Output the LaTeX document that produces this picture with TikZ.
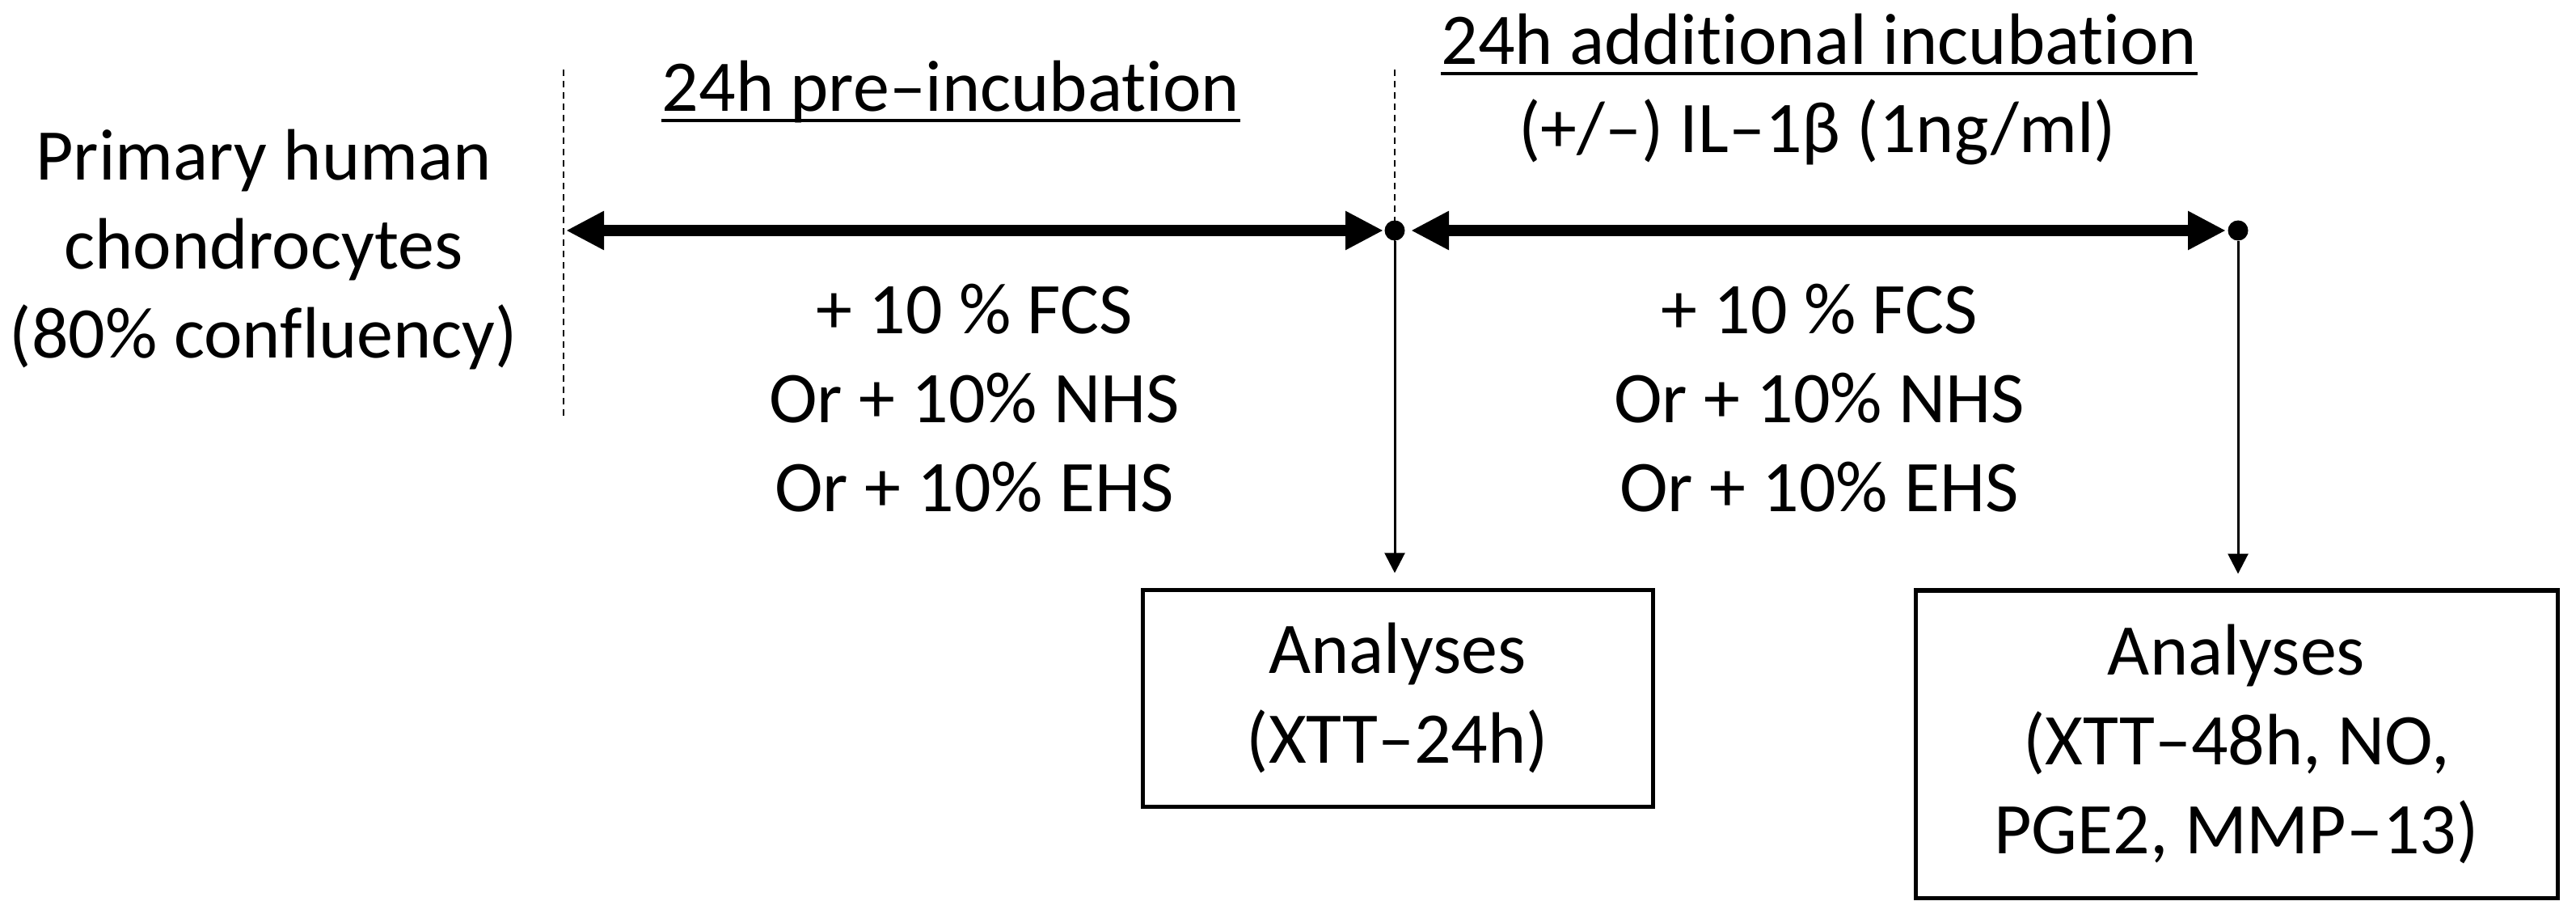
\documentclass[tikz,border=0pt]{standalone}
\usepackage{fontspec}
\setmainfont{Carlito}[Ligatures=NoCommon]
\usetikzlibrary{arrows.meta,calc}
\begin{document}
\begin{tikzpicture}[
  every node/.style={font=\fontsize{25.6pt}{31.3pt}\selectfont},
  txt/.style={align=center, inner sep=0pt, anchor=base},
  timeline/.style={line width=0.14cm, {Triangle[length=0.47cm,width=0.45cm]}-{Triangle[length=0.47cm,width=0.45cm]}},
  guide/.style={line width=0.02cm, dash pattern=on 0.08cm off 0.06cm},
  ulinestyle/.style={line width=0.04cm},
  dotnode/.style={circle, fill=black, inner sep=0pt, minimum size=0.25cm},
  downarrow/.style={line width=0.03cm, -{Triangle[length=0.25cm,width=0.25cm]}, shorten >=0.18cm},
  abox/.style={draw, line width=0.05cm, align=center, inner sep=0pt}
]
\useasboundingbox (0,0) rectangle (31.86,-11.35);

% left label (base anchor = last line baseline)
\node[txt] (cells) at (3.26,-4.43) {Primary human\\chondrocytes\\(80\% confluency)};

% guides
\coordinate (g1t) at (6.97,-0.86);
\coordinate (g1b) at (6.97,-5.15);
\coordinate (g2t) at (17.25,-0.86);
\coordinate (g2b) at (17.25,-4.74);
\draw[guide] (g1t) -- (g1b);
\draw[guide] (g2t) -- (g2b);

% dots
\node[dotnode] (d1) at (17.25,-2.85) {};
\node[dotnode] (d2) at (27.68,-2.85) {};

% timelines
\coordinate (a1s) at (7.00,-2.85);
\coordinate (a2s) at (17.45,-2.85);
\draw[timeline] (a1s) -- ([xshift=-0.14cm]d1.center);
\draw[timeline] (a2s) -- ([xshift=-0.15cm]d2.center);

% titles
\node[txt] (t1) at (11.76,-1.38) {24h pre–incubation};
\draw[ulinestyle] ([yshift=-0.11cm]t1.base west) -- ([yshift=-0.11cm]t1.base east);
\node[txt] (t2) at (22.50,-0.80) {24h additional incubation};
\draw[ulinestyle] ([yshift=-0.11cm]t2.base west) -- ([yshift=-0.11cm]t2.base east);
\node[txt] (il) at (22.48,-1.89) {(+/–) IL–1β (1ng/ml)};

% serum conditions
\node[txt] (s1) at (12.05,-6.33) {+ 10 \% FCS\\Or + 10\% NHS\\Or + 10\% EHS};
\node[txt] (s2) at (22.50,-6.33) {+ 10 \% FCS\\Or + 10\% NHS\\Or + 10\% EHS};

% analyses boxes
\node[abox, minimum width=6.31cm, minimum height=2.68cm] (b1) at (17.285,-8.63) {Analyses\\(XTT–24h)};
\node[abox, minimum width=7.94cm, minimum height=3.80cm] (b2) at (27.66,-9.20) {Analyses\\(XTT–48h, NO,\\PGE2, MMP–13)};

\draw[downarrow] (d1) -- (d1 |- b1.north);
\draw[downarrow] (d2) -- (d2 |- b2.north);
\end{tikzpicture}
\end{document}
